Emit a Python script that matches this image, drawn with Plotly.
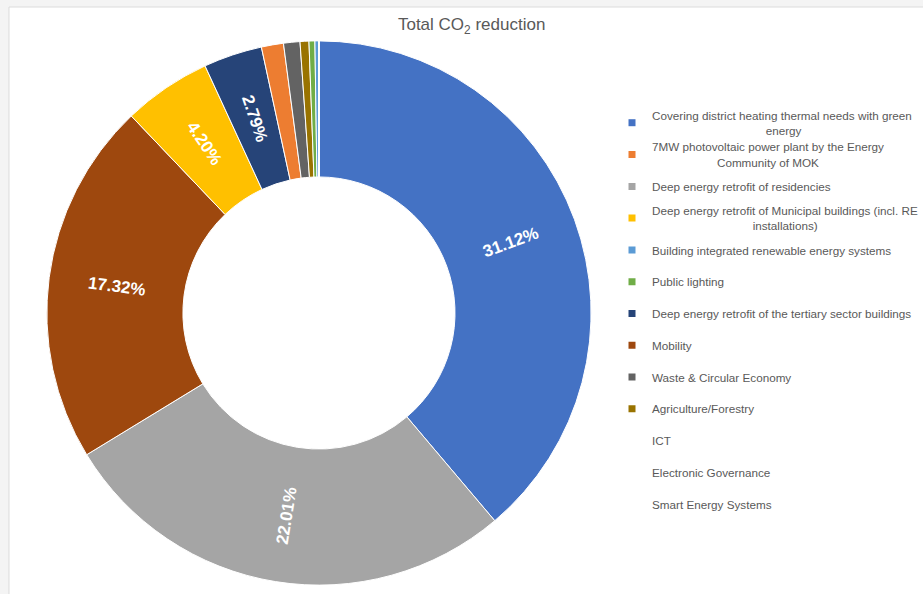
import math
import plotly.graph_objects as go

# ---- data (legend order) ----
categories = [
    "Covering district heating thermal needs with green energy",
    "7MW photovoltaic power plant by the Energy Community of MOK",
    "Deep energy retrofit of residencies",
    "Deep energy retrofit of Municipal buildings (incl. RE installations)",
    "Building integrated renewable energy systems",
    "Public lighting",
    "Deep energy retrofit of the tertiary sector buildings",
    "Mobility",
    "Waste & Circular Economy",
    "Agriculture/Forestry",
    "ICT",
    "Electronic Governance",
    "Smart Energy Systems",
]
values = [31.12, 1.05, 22.01, 4.20, 0.19, 0.28, 2.79, 17.32, 0.78, 0.42, 0.0, 0.0, 0.0]
colors = ["#4472C4", "#ED7D31", "#A5A5A5", "#FFC000", "#5B9BD5", "#70AD47",
          "#264478", "#9E480E", "#636363", "#997300",
          "rgba(0,0,0,0)", "rgba(0,0,0,0)", "rgba(0,0,0,0)"]
# legend display text (wrapped like the original)
NB = "\u00a0"
legend_text = [
    "Covering district heating thermal needs with green<br>" + NB * 35 + "energy",
    "7MW photovoltaic power plant by the Energy<br>" + NB * 20 + "Community of MOK",
    "Deep energy retrofit of residencies",
    "Deep energy retrofit of Municipal buildings (incl. RE<br>" + NB * 31 + "installations)",
    "Building integrated renewable energy systems",
    "Public lighting",
    "Deep energy retrofit of the tertiary sector buildings",
    "Mobility",
    "Waste & Circular Economy",
    "Agriculture/Forestry",
    "ICT",
    "Electronic Governance",
    "Smart Energy Systems",
]
LABEL_MIN = 2.0  # only slices of at least this value get a data label

W, H = 923, 594
FONT = "Liberation Sans, Arial, sans-serif"
GREY = "#595959"

# pie geometry (pixels)
CX, CY, R_OUT, HOLE = 320, 313, 273, 0.5

fig = go.Figure()
fig.add_trace(go.Pie(
    labels=categories,
    values=values,
    marker=dict(colors=colors, line=dict(color="white", width=1)),
    hole=HOLE,
    sort=True,
    direction="clockwise",
    rotation=0,
    textinfo="none",
    showlegend=False,
    hoverinfo="label+value",
    domain=dict(x=[(CX - R_OUT) / W, (CX + R_OUT) / W],
                y=[1 - (CY + R_OUT) / H, 1 - (CY - R_OUT) / H]),
))

# data labels placed radially at the middle of the ring, derived from values
order = sorted(range(len(values)), key=lambda i: -values[i])
total = sum(values)
r_mid = R_OUT * (1 + HOLE) / 2
annotations = []
cum = 0.0
for i in order:
    v = values[i]
    mid = (cum + v / 2) / total * 360.0
    cum += v
    if v < LABEL_MIN:
        continue
    th = math.radians(mid)
    px = CX + r_mid * math.sin(th)
    py = CY - r_mid * math.cos(th)
    ang = mid - 90 if mid <= 180 else mid - 270
    annotations.append(dict(
        text=f"{v:.2f}%", x=px / W, y=1 - py / H, xref="paper", yref="paper",
        xanchor="center", yanchor="middle", showarrow=False, textangle=ang,
        font=dict(color="white", size=17, family=FONT, weight="bold"),
    ))

# legend entries (one small legend per entry so spacing is uniform)
legend_layouts = {}
for i, (txt, col) in enumerate(zip(legend_text, colors)):
    key = "legend" if i == 0 else f"legend{i + 1}"
    fig.add_trace(go.Scatter(
        x=[None], y=[None], mode="markers",
        marker=dict(symbol="square", size=7, color=col),
        name=txt, legend=key, showlegend=True, hoverinfo="skip",
    ))
    ypx = 123 + i * 31.75
    legend_layouts[key] = dict(
        x=614 / W, xanchor="left",
        y=1 - ypx / H, yanchor="middle",
        bgcolor="rgba(0,0,0,0)", borderwidth=0,
        font=dict(size=11.7, color=GREY, family=FONT),
        valign="middle",
    )

fig.update_layout(
    width=W, height=H,
    margin=dict(l=0, r=0, t=0, b=0),
    paper_bgcolor="#f4f4f4",
    plot_bgcolor="rgba(0,0,0,0)",
    xaxis=dict(visible=False),
    yaxis=dict(visible=False),
    title=dict(
        text="Total CO<sub>2</sub> reduction",
        font=dict(size=17, color=GREY, family=FONT),
        x=0.511, xanchor="center",
        y=1 - 24 / H, yanchor="middle", yref="container", xref="container",
    ),
    shapes=[dict(
        type="rect", xref="paper", yref="paper",
        x0=9 / W, x1=1.02, y0=-0.02, y1=1 - 7 / H,
        fillcolor="white", line=dict(color="#dcdcdc", width=1), layer="below",
    )],
    annotations=annotations,
    **legend_layouts,
)

fig.write_html("out.html")
